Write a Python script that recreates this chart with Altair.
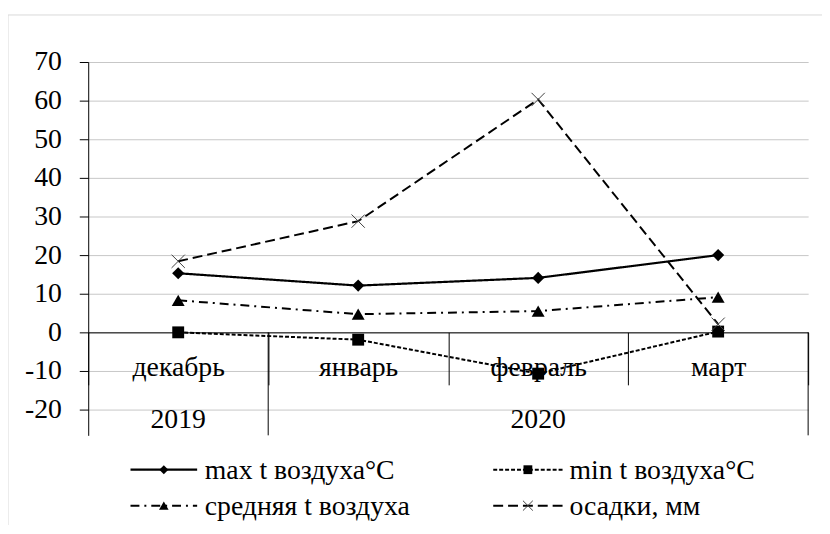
import altair as alt
import pandas as pd

# ---- data ----
months = ["декабрь", "январь", "февраль", "март"]
years = ["2019", "2020"]
year_anchor = ["декабрь", "февраль"]
series_names = ["max t воздуха°C", "min t воздуха°C", "средняя t воздуха", "осадки, мм"]
max_t = [15.3, 12.1, 14.1, 20.0]
min_t = [0.0, -1.9, -10.7, 0.2]
avg_t = [8.3, 4.7, 5.5, 9.1]
precip = [18.4, 28.8, 60.3, 2.1]
y_ticks = [-20, -10, 0, 10, 20, 30, 40, 50, 60, 70]

values = [max_t, min_t, avg_t, precip]

# ---- style ----
FONT = "Liberation Serif"
FS = 28
W, H = 727, 377
Y_DOMAIN = [-26.67, 70]

styles = [
    dict(dash=[1, 0], width=2.2, shape="diamond", size=150, filled=True),
    dict(dash=[4, 2], width=2.0, shape="square", size=144, filled=True),
    dict(dash=[9, 5, 2, 5], width=2.0, shape="triangle-up", size=170, filled=True),
    dict(dash=[10, 5], width=2.0, shape="M-1,-1L1,1M-1,1L1,-1", size=180, filled=False),
]
# legend placement (pixels relative to plot origin)
leg_line_x = [(42.7, 110), (409, 479), (42.7, 110), (409, 479)]
leg_text_x = [117.7, 486, 117.7, 486]
leg_y = [411.7, 411.7, 448, 448]

xscale = alt.Scale(type="band", domain=months, paddingInner=0, paddingOuter=0)
yscale = alt.Scale(domain=Y_DOMAIN, nice=False, zero=False)

x_axis = alt.Axis(title=None, offset=-104, tickBand="extent", tickSize=53,
                  tickColor="black", tickWidth=1, domainColor="black", domainWidth=1,
                  labelFont=FONT, labelFontSize=FS, labelColor="black",
                  labelPadding=-9, labelBaseline="alphabetic", grid=False, labelAngle=0)
y_axis = alt.Axis(title=None, values=y_ticks, grid=True, gridColor="#c6c6c6", gridWidth=1,
                  domainColor="black", domainWidth=1, tickColor="black", tickSize=9,
                  labelExpr="datum.value + ''",
                  labelFont=FONT, labelFontSize=FS, labelColor="black", labelPadding=18)

layers = []

# frame border
frame = alt.Chart(pd.DataFrame({"a": [0]})).mark_rect(
    fillOpacity=0, stroke="#d9d9d9", strokeWidth=1
).encode(x=alt.value(-81), x2=alt.value(780), y=alt.value(-47.5), y2=alt.value(520))
layers.append(frame)

# axis carrier (gridlines and axes)
base_df = pd.DataFrame({"month": months, "v": max_t})
axes = alt.Chart(base_df).mark_point(opacity=0).encode(
    x=alt.X("month:N", scale=xscale, axis=x_axis),
    y=alt.Y("v:Q", scale=yscale, axis=y_axis),
)
layers.append(axes)

# year separators
sep1 = alt.Chart(pd.DataFrame({"m": [months[1]]})).mark_rule(color="black", strokeWidth=1).encode(
    x=alt.X("m:N", scale=xscale, bandPosition=0), y=alt.datum(0), y2=alt.value(H))
sep2 = alt.Chart(pd.DataFrame({"m": [months[-1]]})).mark_rule(color="black", strokeWidth=1).encode(
    x=alt.X("m:N", scale=xscale, bandPosition=1), y=alt.datum(0), y2=alt.value(H))
layers += [sep1, sep2]

# year labels
yr = alt.Chart(pd.DataFrame({"m": year_anchor, "yr": years})).mark_text(
    font=FONT, fontSize=FS, color="black", baseline="alphabetic", align="center"
).encode(x=alt.X("m:N", scale=xscale), y=alt.value(370), text="yr:N")
layers.append(yr)

# series
for name, vals, st in zip(series_names, values, styles):
    df = pd.DataFrame({"month": months, "v": vals, "s": name})
    line = alt.Chart(df).mark_line(color="black", strokeWidth=st["width"], strokeDash=st["dash"]).encode(
        x=alt.X("month:N", scale=xscale), y=alt.Y("v:Q", scale=yscale))
    pt_kwargs = dict(shape=st["shape"], size=st["size"], opacity=1)
    if st["filled"]:
        pt = alt.Chart(df).mark_point(filled=True, color="black", **pt_kwargs)
    else:
        pt = alt.Chart(df).mark_point(filled=False, stroke="#404040", strokeWidth=1, **pt_kwargs)
    pt = pt.encode(x=alt.X("month:N", scale=xscale), y=alt.Y("v:Q", scale=yscale))
    layers += [line, pt]

# legend
for i, (name, st) in enumerate(zip(series_names, styles)):
    ldf = pd.DataFrame({"label": [name]})
    x0, x1 = leg_line_x[i]
    ly = leg_y[i]
    lr = alt.Chart(ldf).mark_rule(color="black", strokeWidth=st["width"], strokeDash=st["dash"]).encode(
        x=alt.value(x0), x2=alt.value(x1), y=alt.value(ly))
    pk = dict(shape=st["shape"], size=st["size"] * 0.55, opacity=1)
    if st["filled"]:
        lp = alt.Chart(ldf).mark_point(filled=True, color="black", **pk)
    else:
        lp = alt.Chart(ldf).mark_point(filled=False, stroke="#404040", strokeWidth=1, **pk)
    lp = lp.encode(x=alt.value((x0 + x1) / 2), y=alt.value(ly))
    lt = alt.Chart(ldf).mark_text(font=FONT, fontSize=FS, color="black", align="left",
                                  baseline="alphabetic").encode(
        x=alt.value(leg_text_x[i]), y=alt.value(ly + 9), text="label:N")
    layers += [lr, lp, lt]

chart = alt.layer(*layers).properties(
    width=W, height=H,
    autosize=alt.AutoSizeParams(type="none"),
    padding={"left": 81, "top": 52, "right": 14, "bottom": 88},
    background="white",
).configure_view(stroke=None)

chart.save("out.html", embed_options={"renderer": "svg", "actions": False})
